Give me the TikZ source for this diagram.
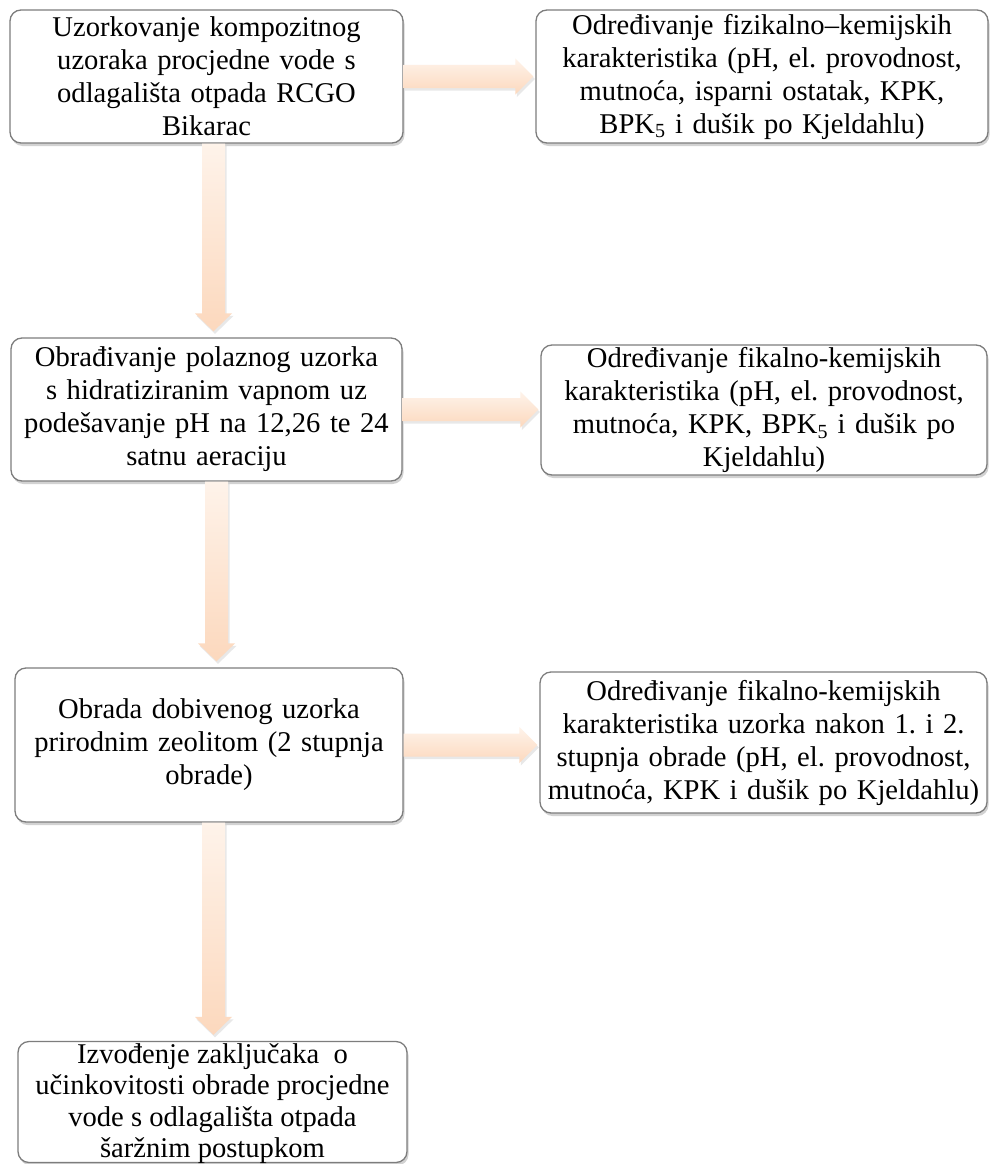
\documentclass[tikz,border=0pt]{standalone}
\usepackage{fontspec}
\setmainfont{Liberation Serif}
\usetikzlibrary{shadows,calc}
\definecolor{peachTop}{RGB}{254,243,234}
\definecolor{peachBot}{RGB}{252,216,189}
\definecolor{boxEdge}{RGB}{125,125,125}
\tikzset{
  box/.style={draw=boxEdge, line width=1.3pt, rounded corners=11pt, fill=white,
    align=center, inner sep=0pt,
    font=\fontsize{28.6}{33}\selectfont\frenchspacing,
    drop shadow={opacity=0.35, shadow xshift=1.5pt, shadow yshift=-3pt}},
  conn/.style={top color=peachTop, bottom color=peachBot, draw=none,
    drop shadow={opacity=0.18, shadow xshift=1.5pt, shadow yshift=-2.5pt}}
}
\newcommand{\vconn}[3]{%
  \path[conn] let \p1=(#1), \p2=(#2) in
    (\x1+#3pt-11.5pt,\y1) -- (\x1+#3pt+11.5pt,\y1) -- (\x1+#3pt+11.5pt,\y2+24pt)
    -- (\x1+#3pt+18.5pt,\y2+24pt) -- (\x1+#3pt,\y2+6pt) -- (\x1+#3pt-18.5pt,\y2+24pt)
    -- (\x1+#3pt-11.5pt,\y2+24pt) -- cycle;}
\newcommand{\hconn}[2]{%
  \path[conn] let \p1=(#1), \p2=(#2) in
    (\x1,\y1+11.5pt) -- (\x2-20pt,\y1+11.5pt) -- (\x2-20pt,\y1+18pt)
    -- (\x2-2pt,\y1) -- (\x2-20pt,\y1-18pt) -- (\x2-20pt,\y1-11.5pt)
    -- (\x1,\y1-11.5pt) -- cycle;}
\begin{document}
\begin{tikzpicture}[x=1pt,y=-1pt]
\useasboundingbox[fill=white] (0,0) rectangle (1001,1164);
\node[box, minimum width=393pt, minimum height=133pt, text width=385pt] (b1) at (206.5,76.5)
  {Uzorkovanje kompozitnog\\uzoraka procjedne vode s\\odlagališta otpada RCGO\\Bikarac};
\node[box, minimum width=452pt, minimum height=133pt, text width=448pt] (b2) at (762,76.5)
  {Određivanje fizikalno–kemijskih\\karakteristika (pH, el. provodnost,\\mutnoća, isparni ostatak, KPK,\\BPK\textsubscript{5} i dušik po Kjeldahlu)};
\node[box, minimum width=391pt, minimum height=143pt, text width=387pt] (b3) at (206.5,409.5)
  {Obrađivanje polaznog uzorka\\s hidratiziranim vapnom uz\\podešavanje pH na 12,26 te 24\\satnu aeraciju};
\node[box, minimum width=446pt, minimum height=130pt, text width=442pt] (b4) at (764,410)
  {Određivanje fikalno-kemijskih\\karakteristika (pH, el. provodnost,\\mutnoća, KPK, BPK\textsubscript{5} i dušik po\\Kjeldahlu)};
\node[box, minimum width=388pt, minimum height=154pt, text width=384pt] (b5) at (209,745)
  {Obrada dobivenog uzorka\\prirodnim zeolitom (2 stupnja\\obrade)};
\node[box, minimum width=447pt, minimum height=141pt, text width=443pt] (b6) at (763.5,742.5)
  {Određivanje fikalno-kemijskih\\karakteristika uzorka nakon 1. i 2.\\stupnja obrade (pH, el. provodnost,\\mutnoća, KPK i dušik po Kjeldahlu)};
\node[box, minimum width=389pt, minimum height=121pt] (b7) at (212.5,1102)
  {\parbox[c][121pt][c]{385pt}{\fontsize{28.6}{31.5}\selectfont\vspace*{3pt}\centering Izvođenje zaključaka \ o\\učinkovitosti obrade procjedne\\vode s odlagališta otpada\\šaržnim postupkom}};
\hconn{b1.east}{b2.west}
\hconn{b3.east}{b4.west}
\hconn{b5.east}{b6.west}
\vconn{b1.south}{b3.north}{7}
\vconn{b3.south}{b5.north}{10}
\vconn{b5.south}{b7.north}{4.5}
\end{tikzpicture}
\end{document}
